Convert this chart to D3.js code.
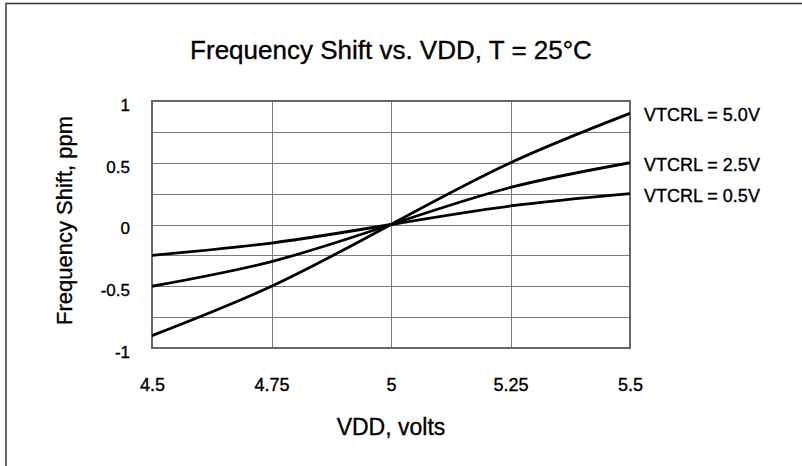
<!DOCTYPE html>
<meta charset="utf-8">
<style>
    body { margin: 0; background: #fff; }
    svg text { font-family: "Liberation Sans", Arial, Helvetica, sans-serif; fill: #000; stroke: #000; stroke-width: 0.35; }
    .grid line { stroke: #7a7a7a; stroke-width: 1; shape-rendering: crispEdges; }
    .grid path { display: none; }
    .axis path, .axis line { display: none; }
</style>

<div class="chart"></div>

<script src="https://cdn.jsdelivr.net/npm/d3@7"></script>

<script>
    // values
    var vdd = [4.5, 4.75, 5, 5.25, 5.5];
    var shift50 = [-0.9, -0.5, 0, 0.5, 0.9];
    var shift25 = [-0.5, -0.3, 0, 0.3, 0.5];
    var shift05 = [-0.25, -0.15, 0, 0.15, 0.25];
    var seriesLabels = ["VTCRL = 5.0V", "VTCRL = 2.5V", "VTCRL = 0.5V"];
    var xTicks = [4.5, 4.75, 5, 5.25, 5.5];
    var yTicks = [-1, -0.75, -0.5, -0.25, 0, 0.25, 0.5, 0.75, 1];

    var W = 802, H = 466;
    var margin = {top: 101, right: 172, bottom: 118, left: 152},
        width = W - margin.left - margin.right,
        height = H - margin.top - margin.bottom;

    var svg = d3.select('.chart')
        .append('svg')
        .attr('width', W)
        .attr('height', H);

    // outer frame (only top/left edges visible in the picture)
    svg.append('rect')
        .attr('x', 6).attr('y', 3.5)
        .attr('width', W + 10).attr('height', H + 10)
        .attr('fill', 'none')
        .attr('stroke', '#333')
        .attr('stroke-width', 1.5);

    var x = d3.scaleLinear().domain([4.5, 5.5]).range([0, width]);
    var y = d3.scaleLinear().domain([-1, 1]).range([height, 0]);

    var g = svg.append('g')
        .attr('transform', 'translate(' + margin.left + ',' + margin.top + ')');

    // grid
    g.append('g').attr('class', 'grid')
        .call(d3.axisLeft(y).tickValues(yTicks).tickSize(-width).tickFormat(''));
    g.append('g').attr('class', 'grid')
        .attr('transform', 'translate(0,' + height + ')')
        .call(d3.axisBottom(x).tickValues(xTicks).tickSize(height).tickFormat(''))
        .selectAll('line').attr('transform', 'translate(0,' + (-height) + ')');

    // plot frame
    g.append('rect')
        .attr('width', width).attr('height', height)
        .attr('fill', 'none')
        .attr('stroke', '#666')
        .attr('stroke-width', 2);

    // tick labels
    g.append('g').attr('class', 'axis')
        .call(d3.axisLeft(y).tickValues([-1, -0.5, 0, 0.5, 1]).tickSize(0).tickPadding(22)
            .tickFormat(function (d) { return String(d); }))
        .selectAll('text')
        .attr('font-size', 17)
        .attr('dy', '0.55em');

    g.append('g').attr('class', 'axis')
        .attr('transform', 'translate(0,' + height + ')')
        .call(d3.axisBottom(x).tickValues(xTicks).tickSize(0).tickPadding(30)
            .tickFormat(function (d) { return String(d); }))
        .selectAll('text')
        .attr('font-size', 18);

    // curves
    var series = [shift50, shift25, shift05];
    var line = d3.line()
        .x(function (d, i) { return x(vdd[i]); })
        .y(function (d) { return y(d); })
        .curve(d3.curveNatural);

    g.selectAll('.curve')
        .data(series)
        .enter().append('path')
        .attr('class', 'curve')
        .attr('d', line)
        .attr('fill', 'none')
        .attr('stroke', '#000')
        .attr('stroke-width', 2.8);

    g.selectAll('.label')
        .data(series)
        .enter().append('text')
        .attr('class', 'label')
        .attr('x', width + 14)
        .attr('y', function (d) { return y(d[d.length - 1]); })
        .attr('dy', '0.45em')
        .attr('font-size', 18)
        .text(function (d, i) { return seriesLabels[i]; });

    // titles
    svg.append('text')
        .attr('x', 391).attr('y', 59)
        .attr('text-anchor', 'middle')
        .attr('font-size', 26)
        .text('Frequency Shift vs. VDD, T = 25°C');

    svg.append('text')
        .attr('x', margin.left + width / 2).attr('y', 435)
        .attr('text-anchor', 'middle')
        .attr('font-size', 23)
        .text('VDD, volts');

    svg.append('text')
        .attr('transform', 'translate(72,' + (margin.top + height / 2 - 4) + ') rotate(-90)')
        .attr('text-anchor', 'middle')
        .attr('font-size', 22)
        .text('Frequency Shift, ppm');
</script>
